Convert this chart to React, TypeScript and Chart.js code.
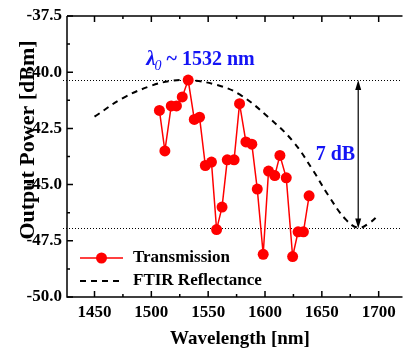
import React, { useEffect, useRef } from "react";
import { Chart, registerables } from "chart.js";

Chart.register(...registerables);

// ---- data ----
const WAVELENGTH = [
  1507.1, 1511.9, 1517.5, 1522.1, 1527.2, 1532.4, 1537.8, 1542.4, 1547.5,
  1552.9, 1557.4, 1562.2, 1566.8, 1572.8, 1577.6, 1583.2, 1588.4, 1593.2,
  1598.4, 1603.1, 1608.6, 1613.1, 1618.7, 1624.3, 1629.1, 1633.8, 1638.8,
];
const TRANSMISSION = [
  -41.7, -43.5, -41.5, -41.5, -41.1, -40.35, -42.1, -42.0, -44.15,
  -44.0, -47.0, -46.0, -43.9, -43.9, -41.4, -43.1, -43.2, -45.2,
  -48.1, -44.4, -44.6, -43.7, -44.7, -48.2, -47.1, -47.1, -45.5,
];
const FTIR_WL = [1450, 1475, 1500, 1516, 1532, 1558, 1578, 1604, 1625, 1642, 1656, 1671, 1682, 1692, 1700];
const FTIR_DBM = [-41.98, -41.15, -40.6, -40.4, -40.35, -40.57, -41.0, -42.05, -43.1, -44.35, -45.5, -46.55, -46.92, -46.7, -46.35];

const X_TICKS = [1450, 1500, 1550, 1600, 1650, 1700];
const X_MINOR = [1475, 1525, 1575, 1625, 1675];
const Y_TICKS = [-50, -47.5, -45, -42.5, -40, -37.5];
const Y_MINOR = [-48.75, -46.25, -43.75, -41.25, -38.75];
const X_MIN = 1425.8;
const X_MAX = 1719.2;
const Y_MIN = -50;
const Y_MAX = -37.5;

const REF_HIGH = -40.35;
const REF_LOW = -46.95;
const ARROW_WL = 1682;
const PEAK_LABEL_POS = { x: 1495.5, y: -39.7 };
const DB_LABEL_POS = { x: 1644.6, y: -43.9 };
const DB_LABEL = "7 dB";
const X_TITLE = "Wavelength [nm]";
const Y_TITLE = "Output Power [dBm]";
const SERIES_NAMES = ["Transmission", "FTIR Reflectance"];

const FONT = "'Liberation Serif', 'Times New Roman', serif";
const BLUE = "#1414f5";
const RED = "#ff0000";

const decorPlugin = {
  id: "decor",
  beforeDatasetsDraw(chart: any) {
    const { ctx, chartArea, scales } = chart;
    const y = scales.y;
    ctx.save();
    ctx.strokeStyle = "#000";
    ctx.lineWidth = 1;
    ctx.setLineDash([1, 2]);
    [REF_HIGH, REF_LOW].forEach((v) => {
      const py = Math.round(y.getPixelForValue(v)) + 0.5;
      ctx.beginPath();
      ctx.moveTo(chartArea.left - 4, py);
      ctx.lineTo(chartArea.right, py);
      ctx.stroke();
    });
    ctx.restore();
  },
  afterDatasetsDraw(chart: any) {
    const { ctx, chartArea, scales } = chart;
    const x = scales.x;
    const y = scales.y;
    const { left, right, top, bottom } = chartArea;
    ctx.save();
    // frame
    ctx.strokeStyle = "#000";
    ctx.lineWidth = 1.5;
    ctx.setLineDash([]);
    ctx.beginPath();
    ctx.moveTo(left, top);
    ctx.lineTo(right + 2, top);
    ctx.moveTo(left, top);
    ctx.lineTo(left, bottom);
    ctx.lineTo(right + 2, bottom);
    ctx.stroke();
    // tick marks (inward)
    ctx.beginPath();
    X_TICKS.forEach((v) => {
      const px = x.getPixelForValue(v);
      ctx.moveTo(px, bottom);
      ctx.lineTo(px, bottom - 6);
      ctx.moveTo(px, top);
      ctx.lineTo(px, top + 6);
    });
    X_MINOR.forEach((v) => {
      const px = x.getPixelForValue(v);
      ctx.moveTo(px, bottom);
      ctx.lineTo(px, bottom - 3);
      ctx.moveTo(px, top);
      ctx.lineTo(px, top + 3);
    });
    Y_TICKS.forEach((v) => {
      const py = y.getPixelForValue(v);
      ctx.moveTo(left, py);
      ctx.lineTo(left + 6, py);
    });
    Y_MINOR.forEach((v) => {
      const py = y.getPixelForValue(v);
      ctx.moveTo(left, py);
      ctx.lineTo(left + 3, py);
    });
    ctx.stroke();

    // double arrow
    const ax = x.getPixelForValue(ARROW_WL);
    const ay1 = y.getPixelForValue(REF_HIGH);
    const ay2 = y.getPixelForValue(REF_LOW);
    ctx.lineWidth = 1.2;
    ctx.beginPath();
    ctx.moveTo(ax, ay1 + 4);
    ctx.lineTo(ax, ay2 - 4);
    ctx.stroke();
    ctx.fillStyle = "#000";
    ctx.beginPath();
    ctx.moveTo(ax, ay1);
    ctx.lineTo(ax - 3, ay1 + 10);
    ctx.lineTo(ax + 3, ay1 + 10);
    ctx.closePath();
    ctx.fill();
    ctx.beginPath();
    ctx.moveTo(ax, ay2);
    ctx.lineTo(ax - 3, ay2 - 10);
    ctx.lineTo(ax + 3, ay2 - 10);
    ctx.closePath();
    ctx.fill();

    // annotations
    ctx.fillStyle = BLUE;
    ctx.textBaseline = "alphabetic";
    ctx.textAlign = "left";
    let tx = x.getPixelForValue(PEAK_LABEL_POS.x);
    const ty = y.getPixelForValue(PEAK_LABEL_POS.y);
    ctx.font = `italic bold 21px ${FONT}`;
    ctx.fillText("\u03bb", tx, ty);
    tx += ctx.measureText("\u03bb").width - 1;
    ctx.font = `italic 14px ${FONT}`;
    ctx.fillText("0", tx, ty + 5);
    tx += ctx.measureText("0").width;
    ctx.font = `bold 20px ${FONT}`;
    ctx.fillText(" ~ 1532 nm", tx, ty);

    ctx.font = `bold 20px ${FONT}`;
    ctx.fillText(DB_LABEL, x.getPixelForValue(DB_LABEL_POS.x), y.getPixelForValue(DB_LABEL_POS.y));

    // legend
    const ds = chart.data.datasets;
    const lx0 = left + 13;
    const lx1 = left + 56;
    const ly = [258, 281];
    ctx.strokeStyle = ds[0].borderColor;
    ctx.lineWidth = 1.5;
    ctx.beginPath();
    ctx.moveTo(lx0, ly[0]);
    ctx.lineTo(lx1, ly[0]);
    ctx.stroke();
    ctx.fillStyle = ds[0].backgroundColor;
    ctx.beginPath();
    ctx.arc((lx0 + lx1) / 2, ly[0], ds[0].pointRadius, 0, Math.PI * 2);
    ctx.fill();
    ctx.strokeStyle = ds[1].borderColor;
    ctx.lineWidth = ds[1].borderWidth;
    ctx.setLineDash(ds[1].borderDash);
    ctx.beginPath();
    ctx.moveTo(lx0, ly[1]);
    ctx.lineTo(lx1, ly[1]);
    ctx.stroke();
    ctx.setLineDash([]);
    ctx.fillStyle = "#000";
    ctx.font = `bold 17px ${FONT}`;
    ctx.textBaseline = "middle";
    ctx.fillText(ds[0].label, left + 66, ly[0]);
    ctx.fillText(ds[1].label, left + 66, ly[1]);
    ctx.restore();
  },
  afterDraw(chart: any) {
    const { ctx } = chart;
    ctx.save();
    ctx.fillStyle = "#000";
    ctx.textAlign = "center";
    ctx.textBaseline = "alphabetic";
    ctx.font = `bold 19px ${FONT}`;
    ctx.fillText(X_TITLE, 240, 344);
    ctx.translate(34, 140);
    ctx.rotate(-Math.PI / 2);
    ctx.font = `bold 22px ${FONT}`;
    ctx.fillText(Y_TITLE, 0, 0);
    ctx.restore();
  },
};

export default function App() {
  const ref = useRef<HTMLCanvasElement | null>(null);
  useEffect(() => {
    if (!ref.current) return;
    const chart = new Chart(ref.current, {
      type: "line",
      data: {
        datasets: [
          {
            label: SERIES_NAMES[0],
            data: WAVELENGTH.map((w, i) => ({ x: w, y: TRANSMISSION[i] })),
            borderColor: RED,
            backgroundColor: RED,
            borderWidth: 1.5,
            pointRadius: 5.5,
            pointBorderWidth: 0,
            pointBackgroundColor: RED,
            tension: 0,
          },
          {
            label: SERIES_NAMES[1],
            data: FTIR_WL.map((w, i) => ({ x: w, y: FTIR_DBM[i] })),
            borderColor: "#000",
            backgroundColor: "#000",
            borderWidth: 2,
            borderDash: [6, 5],
            pointRadius: 0,
            tension: 0.4,
          },
        ],
      },
      options: {
        animation: false,
        responsive: false,
        devicePixelRatio: 1,
        layout: { padding: { left: 0, top: 16, right: 0, bottom: 0 } },
        plugins: { legend: { display: false }, tooltip: { enabled: false } },
        scales: {
          x: {
            type: "linear",
            min: X_MIN,
            max: X_MAX,
            grid: { display: false, drawTicks: false },
            border: { display: false },
            afterBuildTicks: (s: any) => {
              s.ticks = X_TICKS.map((v) => ({ value: v }));
            },
            afterFit: (s: any) => {
              s.height = 54;
            },
            ticks: {
              padding: 5,
              color: "#000",
              font: { family: FONT, size: 17, weight: "bold" },
              callback: (v: any) => String(v),
            },
          },
          y: {
            type: "linear",
            min: Y_MIN,
            max: Y_MAX,
            grid: { display: false, drawTicks: false },
            border: { display: false },
            afterBuildTicks: (s: any) => {
              s.ticks = Y_TICKS.map((v) => ({ value: v }));
            },
            afterFit: (s: any) => {
              s.width = 67;
            },
            ticks: {
              padding: 5,
              color: "#000",
              font: { family: FONT, size: 17, weight: "bold" },
              callback: (v: any) => Number(v).toFixed(1),
            },
          },
        },
      },
      plugins: [decorPlugin],
    });
    return () => chart.destroy();
  }, []);
  return (
    <div style={{ position: "absolute", left: 0, top: 0, width: 406, height: 351, background: "#fff" }}>
      <canvas ref={ref} width={406} height={351} style={{ width: 406, height: 351, display: "block" }} />
    </div>
  );
}
